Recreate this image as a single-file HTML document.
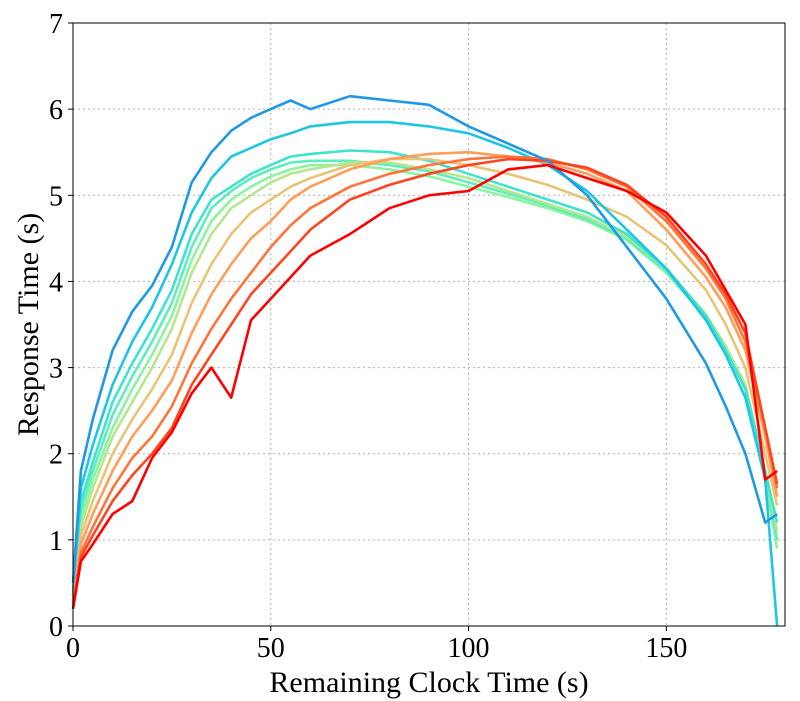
<!DOCTYPE html>
<html><head><meta charset="utf-8"><style>
body{margin:0;background:#fff;}
svg{display:block;font-family:"Liberation Serif",serif;}
</style></head><body>
<svg id="chart" width="800" height="701"></svg>
<script>
const xs=[0,2,5,10,15,20,25,30,35,40,45,50,55,60,70,80,90,100,110,120,130,140,150,160,165,170,175,178];
const s0=[0.5,1.8,2.4,3.2,3.65,3.95,4.4,5.15,5.5,5.75,5.9,6.0,6.1,6.0,6.15,6.1,6.05,5.8,5.6,5.4,5.0,4.4,3.8,3.05,2.55,2.0,1.2,1.3];
const s1=[0.4,1.6,2.1,2.8,3.3,3.7,4.2,4.8,5.2,5.45,5.55,5.65,5.72,5.8,5.85,5.85,5.8,5.72,5.55,5.35,5.05,4.6,4.15,3.55,3.15,2.65,1.7,0.0];
const s2=[0.35,1.45,1.9,2.6,3.05,3.45,3.9,4.55,4.95,5.1,5.25,5.35,5.45,5.48,5.52,5.5,5.4,5.25,5.1,4.95,4.8,4.55,4.15,3.6,3.2,2.75,1.8,1.2];
const s3=[0.35,1.35,1.8,2.45,2.9,3.3,3.75,4.4,4.85,5.05,5.2,5.3,5.38,5.4,5.4,5.35,5.28,5.15,5.02,4.88,4.72,4.5,4.12,3.58,3.2,2.75,1.75,1.0];
const s4=[0.3,1.25,1.7,2.3,2.75,3.15,3.6,4.25,4.7,4.95,5.1,5.22,5.3,5.35,5.35,5.3,5.22,5.1,4.98,4.85,4.7,4.48,4.1,3.58,3.2,2.78,1.7,0.9];
const s5=[0.3,1.15,1.6,2.2,2.6,3.0,3.45,4.1,4.55,4.85,5.0,5.15,5.25,5.3,5.38,5.38,5.3,5.2,5.05,4.9,4.75,4.52,4.15,3.62,3.25,2.8,1.8,1.1];
const s6=[0.3,1.05,1.45,2.0,2.4,2.75,3.15,3.75,4.2,4.55,4.8,4.95,5.1,5.2,5.35,5.42,5.42,5.35,5.25,5.12,4.95,4.75,4.42,3.9,3.5,3.0,2.0,1.4];
const s7=[0.25,0.95,1.3,1.8,2.2,2.5,2.85,3.4,3.85,4.2,4.5,4.7,4.95,5.1,5.3,5.42,5.48,5.5,5.45,5.38,5.25,5.05,4.6,4.05,3.7,3.2,2.2,1.5];
const s8=[0.25,0.85,1.15,1.6,1.95,2.2,2.55,3.05,3.45,3.8,4.1,4.4,4.65,4.85,5.1,5.25,5.35,5.42,5.45,5.42,5.3,5.1,4.7,4.15,3.8,3.3,2.3,1.6];
const s9=[0.2,0.8,1.05,1.45,1.75,2.0,2.3,2.8,3.15,3.5,3.85,4.1,4.35,4.6,4.95,5.12,5.25,5.35,5.42,5.4,5.32,5.12,4.75,4.2,3.85,3.4,2.3,1.65];
const s10=[0.2,0.75,0.95,1.3,1.45,1.95,2.25,2.7,3.0,2.65,3.55,3.8,4.05,4.3,4.55,4.85,5.0,5.05,5.3,5.35,5.2,5.05,4.8,4.3,3.9,3.5,1.7,1.8];
const xTicks=[0,50,100,150];
const yTicks=[0,1,2,3,4,5,6,7];
const series=[s4,s3,s5,s2,s6,s1,s7,s8,s9,s0,s10];
const colors=["#8af5a0","#5eedbc","#b5e88e","#3fe3d0","#e8c476","#1fc6e4","#ff9e58","#ff7438","#ff4420","#1e99e6","#ff0000"];
const L=73,R=785,T=23,B=626,XMAX=180,YMAX=7;
const sx=v=>L+v/XMAX*(R-L), sy=v=>B-v/YMAX*(B-T);
const NS="http://www.w3.org/2000/svg", svg=document.getElementById('chart');
function mk(t,a){const e=document.createElementNS(NS,t);for(const k in a)e.setAttribute(k,a[k]);svg.appendChild(e);return e;}
xTicks.forEach(v=>{if(v>0){const g=mk('line',{x1:sx(v),x2:sx(v),y1:T,y2:B,stroke:'#b0b0b0','stroke-dasharray':'2,3','stroke-width':1});

}
const tk=mk('line',{x1:sx(v),x2:sx(v),y1:B,y2:B+5,stroke:'#000'});


const t=mk('text',{x:sx(v),y:B+31,'text-anchor':'middle','font-size':28});t.textContent=v;

});
yTicks.forEach(v=>{if(v>0&&v<7){const g=mk('line',{x1:L,x2:R,y1:sy(v),y2:sy(v),stroke:'#b0b0b0','stroke-dasharray':'2,3','stroke-width':1});

}
const tk=mk('line',{x1:L-5,x2:L,y1:sy(v),y2:sy(v),stroke:'#000'});


const t=mk('text',{x:L-10,y:sy(v)+10,'text-anchor':'end','font-size':28});t.textContent=v;

});
series.forEach((s,i)=>{const d=s.map((v,j)=>(j?'L':'M')+sx(xs[j]).toFixed(1)+','+sy(v).toFixed(1)).join('');
const p=mk('path',{d:d,fill:'none',stroke:colors[i],'stroke-width':2.6,'stroke-linejoin':'round'});

});
const fr=mk('rect',{x:L,y:T,width:R-L,height:B-T,fill:'none',stroke:'#000','stroke-width':1});


const xt=mk('text',{x:(L+R)/2,y:692,'text-anchor':'middle','font-size':30});xt.textContent='Remaining Clock Time (s)';


const yt=mk('text',{x:0,y:0,'text-anchor':'middle','font-size':30,transform:'translate(38,'+((T+B)/2)+') rotate(-90)'});yt.textContent='Response Time (s)';


</script>
</body></html>
